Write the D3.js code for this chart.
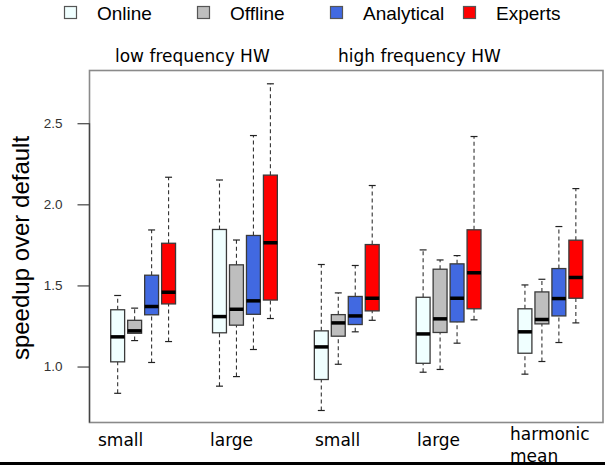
<!DOCTYPE html>
<html>
<head>
  <title>speedup boxplot</title>
  <script src="https://d3js.org/d3.v7.min.js"></script>
  <style>
    body { margin: 0; background: #fff; }
  </style>
</head>
<body>
  <svg width="605" height="465"></svg>
  <script>
  // groups along the x axis and the four methods
  var groups = ["small", "large", "small", "large", "harmonic mean"];
  var methods = ["Online", "Offline", "Analytical", "Experts"];
  var colors = ["#f0ffff", "#bebebe", "#4169e1", "#ff0000"];
  var panels = ["low frequency HW", "high frequency HW"];
  var yTicks = [1.0, 1.5, 2.0, 2.5];

  // five-number summaries per group: [low whisker, q1, median, q3, high whisker]
  var online = [[0.835, 1.029, 1.183, 1.35, 1.438], [0.879, 1.208, 1.308, 1.845, 2.15], [0.729, 0.92, 1.121, 1.22, 1.629], [0.965, 1.02, 1.201, 1.427, 1.719], [0.953, 1.082, 1.214, 1.356, 1.503]];
  var offline = [[1.16, 1.205, 1.22, 1.285, 1.36], [0.938, 1.255, 1.353, 1.627, 1.78], [1.014, 1.187, 1.269, 1.32, 1.454], [0.982, 1.21, 1.294, 1.6, 1.657], [1.031, 1.263, 1.29, 1.46, 1.538]];
  var analytical = [[1.025, 1.319, 1.37, 1.563, 1.842], [1.105, 1.322, 1.405, 1.808, 2.424], [1.214, 1.259, 1.312, 1.432, 1.623], [1.144, 1.275, 1.421, 1.633, 1.684], [1.148, 1.312, 1.419, 1.604, 1.863]];
  var experts = [[1.154, 1.386, 1.458, 1.76, 2.167], [1.296, 1.41, 1.763, 2.18, 2.743], [1.285, 1.343, 1.421, 1.752, 2.116], [1.288, 1.356, 1.578, 1.843, 2.418], [1.269, 1.421, 1.549, 1.779, 2.097]];
  var series = [online, offline, analytical, experts];

  var svg = d3.select("svg");

  // box position: 4 boxes per group, one empty slot between groups
  var x = d3.scaleLinear().domain([-0.66, 29.6]).range([89.5, 603]);
  var y = d3.scaleLinear().domain([0.655, 2.825]).range([422.5, 70.5]);
  var boxW = 0.82;

  var boxes = [];
  series.forEach(function(s, m) {
    s.forEach(function(v, g) {
      boxes.push({pos: g * 6 + m + 1, m: m, v: v});
    });
  });

  // frame
  svg.append("rect")
    .attr("x", x.range()[0]).attr("y", y.range()[1])
    .attr("width", x.range()[1] - x.range()[0])
    .attr("height", y.range()[0] - y.range()[1])
    .attr("fill", "none").attr("stroke", "#8a8a8a").attr("stroke-width", 1.6);

  // y axis
  var yAxis = svg.append("g")
    .attr("transform", "translate(" + x.range()[0] + ",0)")
    .call(d3.axisLeft(y).tickValues(yTicks).tickFormat(d3.format(".1f")).tickSize(12).tickPadding(15));
  yAxis.select(".domain").attr("stroke", "#444").attr("stroke-width", 1.3)
    .attr("d", "M0," + y(2.5) + "V" + y.range()[0]);
  yAxis.selectAll(".tick line").attr("stroke", "#444").attr("stroke-width", 1.2);
  yAxis.selectAll(".tick text")
    .attr("fill", "#333")
    .style("font-family", "Liberation Sans, Arial, sans-serif")
    .style("font-size", "13.5px");

  svg.append("text")
    .attr("transform", "translate(29,248) rotate(-90)")
    .attr("text-anchor", "middle")
    .style("font-family", "Liberation Sans, Arial, sans-serif")
    .style("font-size", "24px")
    .text("speedup over default");

  // whiskers
  var bx = svg.selectAll("g.box").data(boxes).enter().append("g").attr("class", "box");
  bx.append("line")
    .attr("x1", function(d) { return x(d.pos); })
    .attr("x2", function(d) { return x(d.pos); })
    .attr("y1", function(d) { return y(d.v[0]); })
    .attr("y2", function(d) { return y(d.v[1]); })
    .attr("stroke", "#333").attr("stroke-width", 1.1).attr("stroke-dasharray", "4,3");
  bx.append("line")
    .attr("x1", function(d) { return x(d.pos); })
    .attr("x2", function(d) { return x(d.pos); })
    .attr("y1", function(d) { return y(d.v[3]); })
    .attr("y2", function(d) { return y(d.v[4]); })
    .attr("stroke", "#333").attr("stroke-width", 1.1).attr("stroke-dasharray", "4,3");
  [0, 4].forEach(function(k) {
    bx.append("line")
      .attr("x1", function(d) { return x(d.pos - boxW / 4); })
      .attr("x2", function(d) { return x(d.pos + boxW / 4); })
      .attr("y1", function(d) { return y(d.v[k]); })
      .attr("y2", function(d) { return y(d.v[k]); })
      .attr("stroke", "#222").attr("stroke-width", 1.2);
  });

  // boxes and medians
  bx.append("rect")
    .attr("x", function(d) { return x(d.pos - boxW / 2); })
    .attr("width", x(boxW) - x(0))
    .attr("y", function(d) { return y(d.v[3]); })
    .attr("height", function(d) { return y(d.v[1]) - y(d.v[3]); })
    .attr("fill", function(d) { return colors[d.m]; })
    .attr("stroke", "#3a3a3a").attr("stroke-width", 1.3);
  bx.append("line")
    .attr("x1", function(d) { return x(d.pos - boxW / 2); })
    .attr("x2", function(d) { return x(d.pos + boxW / 2); })
    .attr("y1", function(d) { return y(d.v[2]); })
    .attr("y2", function(d) { return y(d.v[2]); })
    .attr("stroke", "#000").attr("stroke-width", 3.5);

  // legend
  var leg = svg.selectAll("g.leg").data(methods).enter().append("g").attr("class", "leg")
    .attr("transform", function(d, i) { return "translate(" + (64 + i * 133) + ",0)"; });
  leg.append("rect")
    .attr("x", 0.5).attr("y", 6.5).attr("width", 12).attr("height", 12)
    .attr("fill", function(d, i) { return colors[i]; })
    .attr("stroke", "#555").attr("stroke-width", 1.2);
  leg.append("text")
    .attr("x", 33).attr("y", 19.5)
    .style("font-family", "Liberation Sans, Arial, sans-serif")
    .style("font-size", "19px")
    .text(function(d) { return d; });

  // panel titles
  var dv = "DejaVu Sans, sans-serif";
  svg.selectAll("text.panel").data(panels).enter().append("text")
    .attr("class", "panel")
    .attr("x", function(d, i) { return [115, 338][i]; })
    .attr("y", 61.5)
    .style("font-family", dv).style("font-size", "17px")
    .text(function(d) { return d; });

  // group labels below the frame
  var labelX = [98, 210, 315, 417, 510];
  svg.selectAll("text.grp").data(groups).enter().append("text")
    .attr("class", "grp")
    .attr("x", function(d, i) { return labelX[i]; })
    .attr("y", function(d) { return d.indexOf(" ") > 0 ? 440 : 446; })
    .style("font-family", dv).style("font-size", "17px")
    .each(function(d) {
      var parts = d.split(" ");
      var t = d3.select(this);
      parts.forEach(function(p, j) {
        t.append("tspan").attr("x", t.attr("x")).attr("dy", j ? 22 : 0).text(p);
      });
    });

  // dark rule along the bottom edge
  svg.append("rect").attr("x", 0).attr("y", 462).attr("width", 605).attr("height", 3).attr("fill", "#000");
  </script>
</body>
</html>
